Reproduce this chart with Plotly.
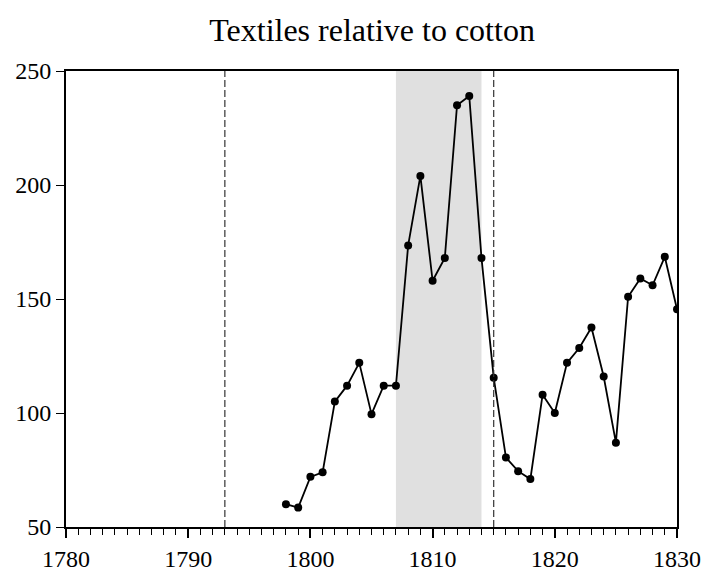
import plotly.graph_objects as go

years = list(range(1798, 1831))
values = [60, 58.5, 72, 74, 105, 112, 122, 99.5, 112, 112,
          173.5, 204, 158, 168, 235, 239, 168,
          115.5, 80.5, 74.5, 71, 108, 100, 122, 128.5, 137.5, 116,
          87, 151, 159, 156, 168.5, 145.5]

shade_start, shade_end = 1807, 1814
dashed_years = [1793, 1815]

font_family = "Liberation Serif, Times New Roman, serif"

fig = go.Figure()

fig.add_vrect(x0=shade_start, x1=shade_end, fillcolor="#e0e0e0", line_width=0, layer="below")
for yr in dashed_years:
    fig.add_vline(x=yr, line=dict(color="#333333", width=1.2, dash="7px,3px"))

fig.add_trace(go.Scatter(
    x=years, y=values, mode="lines+markers",
    line=dict(color="black", width=1.8),
    marker=dict(color="black", size=8),
    showlegend=False,
))

fig.update_layout(
    width=706, height=572,
    margin=dict(l=66, r=29, t=71, b=45),
    plot_bgcolor="white", paper_bgcolor="white",
    font=dict(family=font_family, size=24, color="black"),
    title=dict(text="Textiles relative to cotton", x=0.527, xanchor="center",
               y=0.948, yanchor="middle", font=dict(size=32, family=font_family)),
)

fig.update_xaxes(
    range=[1780, 1830], tickvals=[1780, 1790, 1800, 1810, 1820, 1830],
    ticks="outside", ticklen=9, tickwidth=1.5, tickcolor="black",
    minor=dict(dtick=1, tick0=1780, ticks="outside", ticklen=6, tickwidth=1.2, tickcolor="black"),
    showline=True, linecolor="black", linewidth=2, mirror=True,
    showgrid=False, zeroline=False, automargin=False,
)
fig.update_yaxes(
    range=[50, 250], tickvals=[50, 100, 150, 200, 250],
    ticks="outside", ticklen=8, tickwidth=1.2, tickcolor="black",
    showline=True, linecolor="black", linewidth=2, mirror=True,
    showgrid=False, zeroline=False, automargin=False,
)

# page body has a default 8px margin; drop it so the figure sits at the corner
fig.write_html("out.html", config={"displayModeBar": False},
               post_script="document.body.style.margin='0';")
